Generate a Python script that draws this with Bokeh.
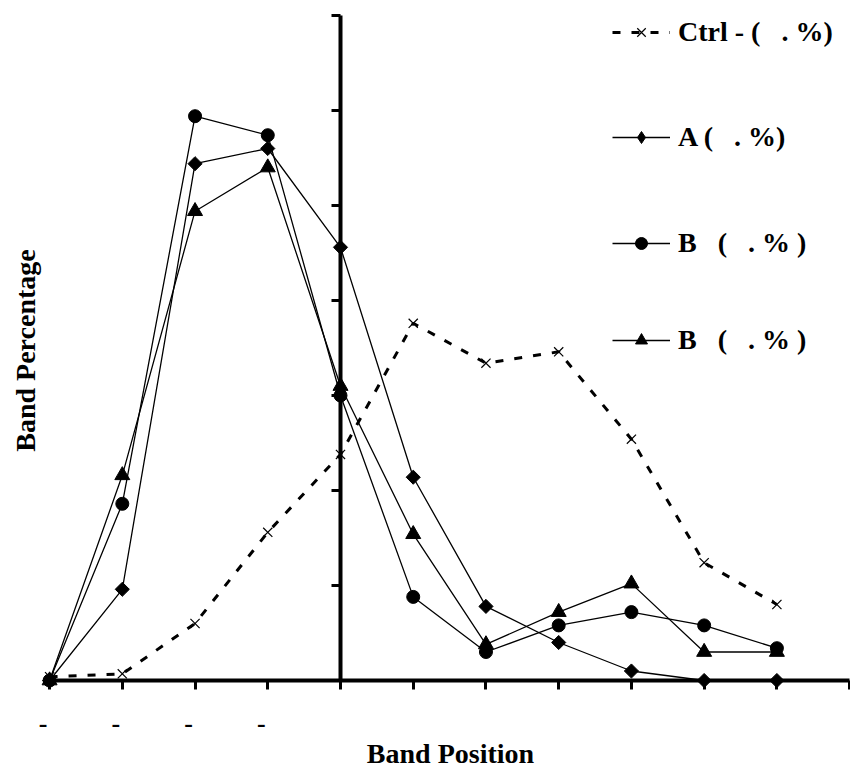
import math
from bokeh.plotting import figure
from bokeh.models import (FixedTicker, Legend, LegendItem, Label, Range1d)
from bokeh.embed import file_html
from bokeh.resources import INLINE

# ---- data ----
positions = [-4, -3, -2, -1, 0, 1, 2, 3, 4, 5, 6]
ctrl = [0.2, 0.35, 3.0, 7.8, 11.9, 18.8, 16.7, 17.3, 12.7, 6.2, 4.0]
series_a = [0, 4.8, 27.2, 28.0, 22.8, 10.7, 3.9, 2.0, 0.5, 0, 0]
series_b1 = [0, 9.3, 29.7, 28.7, 15.0, 4.4, 1.5, 2.9, 3.6, 2.9, 1.7]
series_b2 = [0, 10.8, 24.7, 27.0, 15.5, 7.7, 1.9, 3.6, 5.1, 1.5, 1.5]

labels = ["Ctrl - (\u00a0\u00a0\u00a0. %)", "A (\u00a0\u00a0\u00a0. %)",
          "B\u00a0\u00a0\u00a0(\u00a0\u00a0\u00a0. %\u00a0)", "B\u00a0\u00a0\u00a0(\u00a0\u00a0\u00a0. %\u00a0)"]
x_ticks = [-4, -3, -2, -1, 0, 1, 2, 3, 4, 5, 6, 7]
x_tick_labels = {-4: "-\u2002", -3: "-\u2002", -2: "-\u2002", -1: "-\u2002"}
y_ticks = [0, 5, 10, 15, 20, 25, 30, 35]

FONT = "Liberation Serif"
W, H = 850, 767

p = figure(width=W, height=H, output_backend="svg", toolbar_location=None,
           x_range=Range1d(-340 / 72.73, 510 / 72.73),
           y_range=Range1d(-87 / 19.0, 680 / 19.0),
           min_border=0, min_border_left=0, min_border_right=0,
           min_border_top=0, min_border_bottom=0,
           x_axis_location="below", y_axis_location="left")
p.outline_line_color = None
p.xgrid.visible = False
p.ygrid.visible = False
p.background_fill_color = "white"
p.border_fill_color = "white"

# axes crossing at (0, 0)
xa = p.xaxis[0]
xa.fixed_location = 0
xa.bounds = (-4, 7)
xa.ticker = FixedTicker(ticks=x_ticks)
xa.major_label_overrides = {t: x_tick_labels.get(t, "") for t in x_ticks}
xa.axis_line_width = 4
xa.major_tick_line_width = 3
xa.major_tick_out = 9
xa.major_tick_in = 0
xa.minor_tick_line_color = None
xa.major_label_standoff = 19
xa.major_label_text_font = FONT
xa.major_label_text_font_style = "bold"
xa.major_label_text_font_size = "26px"
xa.major_label_text_color = "black"

ya = p.yaxis[0]
ya.fixed_location = 0
ya.bounds = (0, 35)
ya.ticker = FixedTicker(ticks=y_ticks)
ya.major_label_overrides = {t: "" for t in y_ticks}
ya.axis_line_width = 4
ya.major_tick_line_width = 3
ya.major_tick_out = 9
ya.major_tick_in = 0
ya.minor_tick_line_color = None

# series
c_line = p.line(positions, ctrl, line_color="black", line_width=3, line_dash="8 11")
c_mark = p.scatter(positions, ctrl, marker="x", size=13, line_color="black", line_width=1.2)

a_line = p.line(positions, series_a, line_color="black", line_width=1.3)
# legend swatch for A: legend glyphs are drawn unrotated, so a diamond marker is used
# there; it sits on the first A point, hidden under the rotated-square marks.
a_swatch = p.scatter(positions[:1], series_a[:1], marker="diamond", size=9,
                     fill_color="black", line_color="black")
a_mark = p.scatter(positions, series_a, marker="square", size=10, angle=math.pi / 4,
                   fill_color="black", line_color="black")

b1_line = p.line(positions, series_b1, line_color="black", line_width=1.3)
b1_mark = p.scatter(positions, series_b1, marker="circle", size=13, fill_color="black", line_color="black")

b2_line = p.line(positions, series_b2, line_color="black", line_width=1.3)
b2_mark = p.scatter(positions, series_b2, marker="triangle", size=15, fill_color="black", line_color="black")

# legends (one per entry to match the uneven spacing)
entries = [([c_line, c_mark], labels[0], 33),
           ([a_line, a_swatch], labels[1], 138),
           ([b1_line, b1_mark], labels[2], 244),
           ([b2_line, b2_mark], labels[3], 341)]
for rends, lab, yc in entries:
    lg = Legend(items=[LegendItem(label=lab, renderers=rends)],
                location=(612, H - yc - 15), orientation="vertical",
                glyph_width=58, glyph_height=30, label_height=30,
                label_standoff=8, padding=0, margin=0, spacing=0,
                border_line_color=None, background_fill_alpha=0,
                label_text_font=FONT, label_text_font_style="bold",
                label_text_font_size="28px", label_text_color="black",
                label_text_baseline="middle")
    p.add_layout(lg, "center")

# axis titles
p.add_layout(Label(x=9, y=H - 350, x_units="screen", y_units="screen",
                   text="Band Percentage", angle=math.pi / 2,
                   text_align="center", text_baseline="top",
                   text_font=FONT, text_font_style="bold",
                   text_font_size="28px", text_color="black"))
p.add_layout(Label(x=450, y=H - 737, x_units="screen", y_units="screen",
                   text="Band Position",
                   text_align="center", text_baseline="top",
                   text_font=FONT, text_font_style="bold",
                   text_font_size="28px", text_color="black"))

open("out.html", "w").write(file_html(p, INLINE))
